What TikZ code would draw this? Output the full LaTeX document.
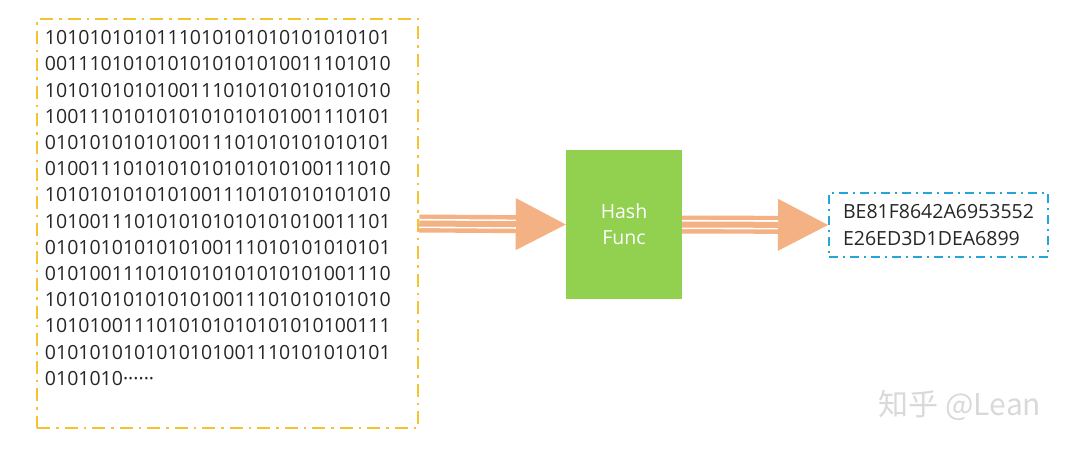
\documentclass[tikz,border=0pt]{standalone}
\usepackage{fontspec}
\setmainfont{Open Sans}
\newfontfamily\cjkfont{Noto Sans CJK SC}
\usetikzlibrary{arrows.meta}

\definecolor{boxyellow}{HTML}{F5C330}
\definecolor{funcgreen}{HTML}{92D050}
\definecolor{pipeorange}{HTML}{F4B183}
\definecolor{digestblue}{HTML}{25A5D8}

\tikzset{
    databox/.style={draw=boxyellow, line width=2.5pt, dash pattern=on 13pt off 6pt on 2.5pt off 6pt, minimum width=381pt, minimum height=409pt, inner sep=0pt},
    bits/.style={align=left, inner sep=0pt, text=black!85, font=\fontsize{19.5}{26.2}\selectfont},
    funcbox/.style={fill=funcgreen, minimum width=116pt, minimum height=149pt, inner sep=0pt, align=center, text=white, font=\fontsize{19.5}{26}\selectfont},
    digestbox/.style={draw=digestblue, line width=2pt, dash pattern=on 9pt off 5pt on 2pt off 5pt, minimum width=219pt, minimum height=64pt, inner sep=0pt, align=left, text=black!85, font=\fontsize{19.5}{26.6}\selectfont},
    pipe/.style={draw=pipeorange, line width=18pt, -{Triangle[length=50pt, width=52pt, line width=0pt]}},
    pipegap/.style={draw=white, line width=1.6pt, double=pipeorange, double distance=6pt, shorten >=50pt},
    watermark/.style={text=gray!30, font=\cjkfont\fontsize{30}{30}\selectfont}
}

\begin{document}
\begin{tikzpicture}[x=1pt, y=1pt]
    \useasboundingbox (0, 0) rectangle (1080, -453);

    \node [databox] (data) at (227.5, -223.5) {};
    \node [bits, anchor=north west] (bits) at ([xshift=9pt, yshift=-12.7pt]data.north west) {%
        1010101010111010101010101010101\\
        0011101010101010101010011101010\\
        1010101010100111010101010101010\\
        1001110101010101010101001110101\\
        0101010101010011101010101010101\\
        0100111010101010101010100111010\\
        1010101010101001110101010101010\\
        1010011101010101010101010011101\\
        0101010101010100111010101010101\\
        0101001110101010101010101001110\\
        1010101010101010011101010101010\\
        1010100111010101010101010100111\\
        0101010101010101001110101010101\\
        0101010······};
    \node [funcbox] (hash) at (624, -224.5) {Hash\\Func};
    \node [digestbox] (digest) at (938.5, -225) {BE81F8642A6953552\\E26ED3D1DEA6899};

    \draw [pipe] (data.east) -- (hash.west);
    \draw [pipegap] (data.east) -- (hash.west);
    \draw [pipe] (hash.east) -- (digest.west);
    \draw [pipegap] (hash.east) -- (digest.west);

    \node [watermark] (mark) at (960, -405) {知乎 @Lean};
\end{tikzpicture}
\end{document}
